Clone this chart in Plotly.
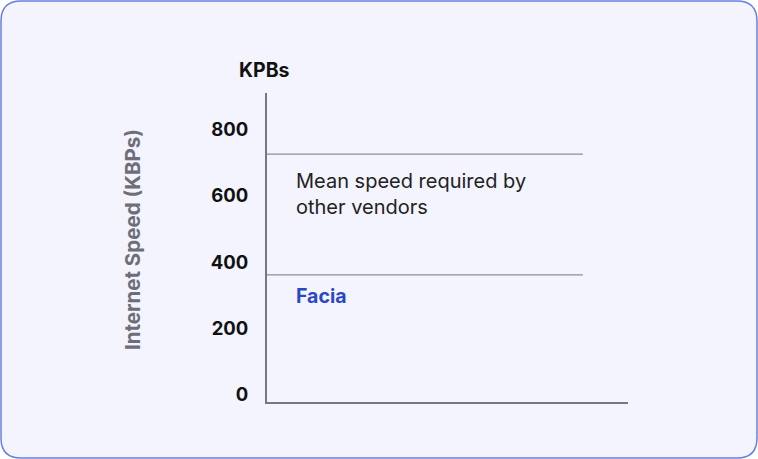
import plotly.graph_objects as go

# chart data
tick_values = [0, 200, 400, 600, 800]
tick_labels = ["0", "200", "400", "600", "800"]
line_names = ["Mean speed required by<br>other vendors", "Facia"]
line_speeds = [727, 361]
line_span = [0, 87.5]

W, H = 758, 459
ML, MR, MT, MB = 267, 130, 93, 57
PW, PH = W - ML - MR, H - MT - MB
FONT = "Inter"


def px_x(p):
    return (p - ML) / PW


def px_y(p):
    return (H - MB - p) / PH


fig = go.Figure()

for name, speed in zip(line_names, line_speeds):
    fig.add_trace(
        go.Scatter(
            x=line_span,
            y=[speed, speed],
            mode="lines",
            line={"color": "#8e8e96", "width": 1.3},
            hoverinfo="skip",
            name=name.replace("<br>", " "),
        )
    )

# labels under each line
for name, speed in zip(line_names, line_speeds):
    facia = name == "Facia"
    fig.add_annotation(
        x=7.6,
        y=speed,
        xref="x",
        yref="y",
        text=f"<b>{name}</b>" if facia else name,
        showarrow=False,
        xanchor="left",
        yanchor="top",
        yshift=-7 if facia else -13,
        align="left",
        font={
            "family": FONT,
            "size": 19.5 if facia else 20,
            "color": "#2a48c4" if facia else "#222222",
        },
    )

# rounded card behind the chart
x0, x1 = px_x(1), px_x(757)
y0, y1 = px_y(458), px_y(1)
rx, ry = 20 / PW, 20 / PH
path = (
    f"M {x0 + rx},{y1} L {x1 - rx},{y1} Q {x1},{y1} {x1},{y1 - ry} "
    f"L {x1},{y0 + ry} Q {x1},{y0} {x1 - rx},{y0} "
    f"L {x0 + rx},{y0} Q {x0},{y0} {x0},{y0 + ry} "
    f"L {x0},{y1 - ry} Q {x0},{y1} {x0 + rx},{y1} Z"
)
fig.add_shape(
    type="path",
    path=path,
    xref="paper",
    yref="paper",
    fillcolor="#f3f4fd",
    line={"color": "#6a7fe0", "width": 1.5},
    layer="below",
)

fig.add_annotation(
    x=px_x(264),
    y=px_y(70),
    xref="paper",
    yref="paper",
    xanchor="center",
    yanchor="middle",
    text="<b>KPBs</b>",
    showarrow=False,
    font={"family": FONT, "size": 19.5, "color": "#111111"},
)
fig.add_annotation(
    x=px_x(132),
    y=px_y(240),
    xref="paper",
    yref="paper",
    xanchor="center",
    yanchor="middle",
    text="<b>Internet Speed (KBPs)</b>",
    textangle=-90,
    showarrow=False,
    font={"family": FONT, "size": 20.5, "color": "#6e6e78"},
)

fig.update_layout(
    width=W,
    height=H,
    margin={"l": ML, "r": MR, "t": MT, "b": MB},
    paper_bgcolor="white",
    plot_bgcolor="rgba(0,0,0,0)",
    showlegend=False,
    xaxis={
        "range": [0, 100],
        "showgrid": False,
        "zeroline": False,
        "showticklabels": False,
        "showline": True,
        "linecolor": "#77777f",
        "linewidth": 2,
        "fixedrange": True,
    },
    yaxis={
        "range": [-24, 912],
        "tickvals": tick_values,
        "ticktext": tick_labels,
        "showgrid": False,
        "zeroline": False,
        "showline": True,
        "linecolor": "#77777f",
        "linewidth": 2,
        "ticks": "",
        "ticklabelstandoff": 13,
        "tickfont": {"family": FONT, "size": 18.5, "color": "#111111", "weight": "bold"},
        "fixedrange": True,
    },
)

fig.write_html(
    "out.html",
    config={"displayModeBar": False},
    post_script="document.body.style.margin='0';",
)
